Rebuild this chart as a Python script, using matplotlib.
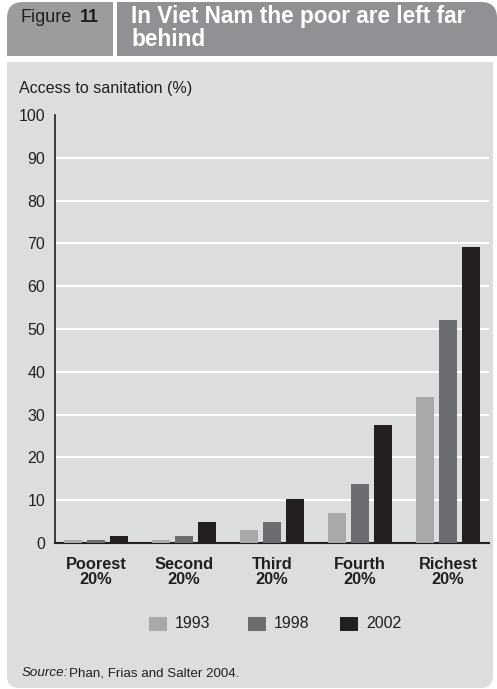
import matplotlib
matplotlib.use("Agg")
import matplotlib.pyplot as plt
import numpy as np
from matplotlib.patches import FancyBboxPatch, Rectangle

W, H = 497, 689

groups = ["Poorest\n20%", "Second\n20%", "Third\n20%", "Fourth\n20%", "Richest\n20%"]
years = ["1993", "1998", "2002"]
vals_1993 = [0.6, 0.6, 3.1, 7.1, 34.2]
vals_1998 = [0.6, 1.7, 4.8, 13.8, 52.2]
vals_2002 = [1.7, 4.8, 10.2, 27.6, 69.1]
y_ticks = [0, 10, 20, 30, 40, 50, 60, 70, 80, 90, 100]

colors = ["#a8a9ab", "#6c6d70", "#231f20"]
panel_bg = "#dcdddf"
header_dark = "#909194"
header_light = "#9b9c9e"
text_dark = "#231f20"

SANS = ["Liberation Sans", "DejaVu Sans"]
plt.rcParams["font.family"] = SANS

fig = plt.figure(figsize=(W / 100, H / 100), dpi=100)
fig.patch.set_facecolor("white")

# background layer in pixel coordinates
bg = fig.add_axes([0, 0, 1, 1], zorder=0)
bg.set_xlim(0, W); bg.set_ylim(H, 0); bg.axis("off")

# panel
bg.add_patch(FancyBboxPatch((7, 62), 486, 626, boxstyle="round,pad=0,rounding_size=12",
                            fc=panel_bg, ec="none"))
bg.add_patch(Rectangle((7, 62), 486, 40, fc=panel_bg, ec="none"))

# header tabs
bg.add_patch(FancyBboxPatch((7, 2), 106, 54, boxstyle="round,pad=0,rounding_size=16",
                            fc=header_light, ec="none"))
bg.add_patch(Rectangle((40, 2), 73, 54, fc=header_light, ec="none"))
bg.add_patch(Rectangle((7, 30), 106, 26, fc=header_light, ec="none"))

bg.add_patch(FancyBboxPatch((117, 2), 380, 54, boxstyle="round,pad=0,rounding_size=16",
                            fc=header_dark, ec="none"))
bg.add_patch(Rectangle((117, 2), 300, 54, fc=header_dark, ec="none"))
bg.add_patch(Rectangle((117, 30), 380, 26, fc=header_dark, ec="none"))

bg.text(20, 18, "Figure", fontsize=13, color=text_dark, va="center", ha="left")
bg.text(80, 18, "11", fontsize=13, fontweight="bold", color=text_dark,
        va="center", ha="left")
bg.text(131, 17, "In Viet Nam the poor are left far", fontsize=16.3, fontweight="bold",
        color="white", va="center", ha="left")
bg.text(131, 40, "behind", fontsize=16.3, fontweight="bold", color="white",
        va="center", ha="left")

bg.text(19, 88, "Access to sanitation (%)", fontsize=11.6, color=text_dark,
        va="center", ha="left")

# legend
leg_x = [149, 248, 340]
for yr, c, lx in zip(years, colors, leg_x):
    bg.add_patch(Rectangle((lx, 617), 18, 14, fc=c, ec="none"))
    bg.text(lx + 26, 624, yr, fontsize=11.5, color=text_dark, va="center", ha="left")

# source line: italic label followed by plain text
src = bg.text(22, 673, "Source:", fontsize=9.6, style="italic", color=text_dark,
              va="center", ha="left")
fig.canvas.draw()
src_right = bg.transData.inverted().transform(
    src.get_window_extent(fig.canvas.get_renderer()).get_points())[1][0]
bg.text(src_right + 1, 673, "Phan, Frias and Salter 2004.", fontsize=9.6,
        color=text_dark, va="center", ha="left")

# chart axes
left, right, top, bottom = 55, 489, 115, 543
ax = fig.add_axes([left / W, 1 - bottom / H, (right - left) / W, (bottom - top) / H], zorder=1)
ax.set_facecolor("none")

x = np.arange(len(groups))
bw, off = 0.205, 0.26
for i, (vals, c) in enumerate(zip([vals_1993, vals_1998, vals_2002], colors)):
    ax.bar(x + (i - 1) * off, vals, width=bw, color=c, zorder=3)

ax.set_xlim(-0.466, 4.466)
ax.set_ylim(0, 100)
ax.set_yticks(y_ticks)
ax.set_yticklabels([str(t) for t in y_ticks], fontsize=11.5, color=text_dark)
for t in y_ticks[1:-1]:
    ax.axhline(t, color="white", lw=1.5, zorder=1)
ax.set_xticks(x)
ax.set_xticklabels(groups, fontsize=11.8, fontweight="bold", color=text_dark,
                   linespacing=1.05)
ax.tick_params(axis="y", length=0, pad=7)
ax.tick_params(axis="x", length=0, pad=10)
for s in ["top", "right"]:
    ax.spines[s].set_visible(False)
ax.spines["left"].set_color(text_dark)
ax.spines["bottom"].set_color(text_dark)
ax.spines["left"].set_linewidth(1.2)
ax.spines["bottom"].set_linewidth(1.5)

fig.savefig("out.png", dpi=100)
